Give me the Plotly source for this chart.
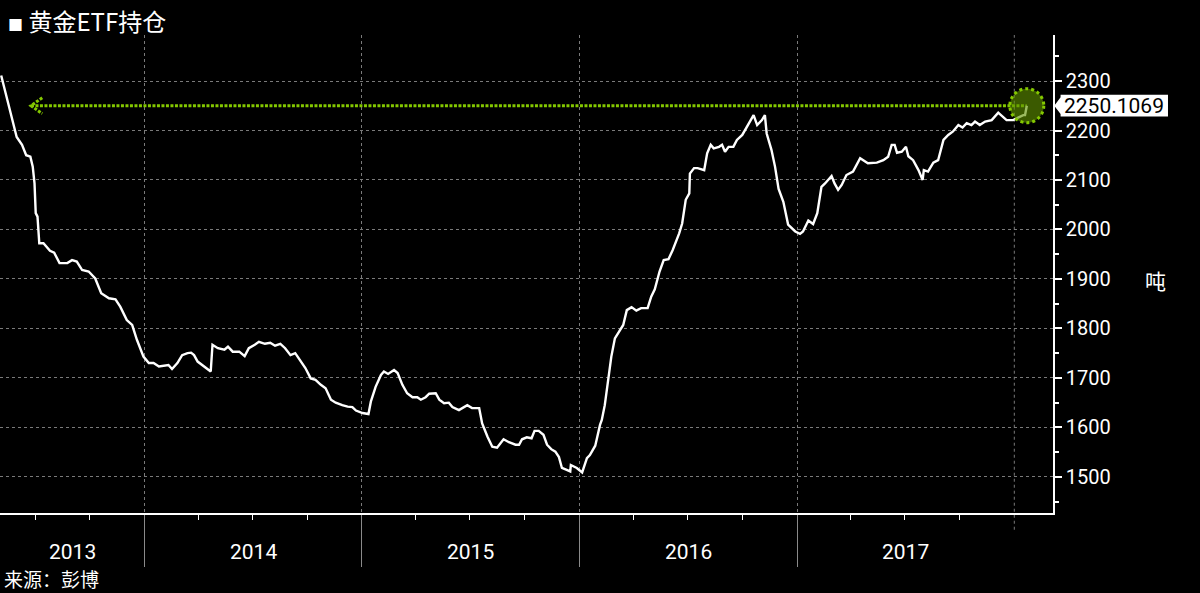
import plotly.graph_objects as go
import pandas as pd

# ---- data ----
dates = [
    "2013-05-05", "2013-05-15", "2013-05-23", "2013-05-27", "2013-05-31", "2013-06-09", "2013-06-16",
    "2013-06-23", "2013-06-27", "2013-06-30", "2013-07-02", "2013-07-05", "2013-07-08", "2013-07-15",
    "2013-07-26", "2013-08-02", "2013-08-11", "2013-08-24", "2013-09-01", "2013-09-09", "2013-09-18",
    "2013-09-29", "2013-10-10", "2013-10-20", "2013-10-24", "2013-11-02", "2013-11-13", "2013-11-21",
    "2013-12-02", "2013-12-11", "2013-12-19", "2013-12-30",
    "2014-01-08", "2014-01-16", "2014-01-25", "2014-02-10", "2014-02-16", "2014-02-25", "2014-03-05",
    "2014-03-14", "2014-03-20", "2014-03-25", "2014-03-31", "2014-04-08", "2014-04-14", "2014-04-22",
    "2014-04-25", "2014-05-04", "2014-05-15", "2014-05-21", "2014-05-29", "2014-06-09", "2014-06-18",
    "2014-06-25", "2014-07-05", "2014-07-12", "2014-07-22", "2014-07-31", "2014-08-08", "2014-08-17",
    "2014-08-25", "2014-09-03", "2014-09-11", "2014-09-20", "2014-09-28", "2014-10-07", "2014-10-15",
    "2014-10-24", "2014-11-01", "2014-11-10", "2014-11-18", "2014-11-29", "2014-12-08", "2014-12-16",
    "2014-12-22",
    "2015-01-02", "2015-01-12", "2015-01-16", "2015-01-24", "2015-02-02", "2015-02-07", "2015-02-14",
    "2015-02-24", "2015-03-02", "2015-03-10", "2015-03-18", "2015-03-27", "2015-04-04", "2015-04-10",
    "2015-04-18", "2015-04-24", "2015-05-05", "2015-05-11", "2015-05-19", "2015-05-27", "2015-06-02",
    "2015-06-13", "2015-06-27", "2015-07-05", "2015-07-17", "2015-07-22", "2015-07-31", "2015-08-08",
    "2015-08-16", "2015-08-27", "2015-09-05", "2015-09-16", "2015-09-22", "2015-09-27", "2015-10-05",
    "2015-10-13", "2015-10-18", "2015-10-25", "2015-11-02", "2015-11-08", "2015-11-15", "2015-11-22",
    "2015-11-28", "2015-12-03", "2015-12-11", "2015-12-17", "2015-12-18", "2015-12-28",
    "2016-01-06", "2016-01-11", "2016-01-14", "2016-01-19", "2016-01-28", "2016-02-05", "2016-02-08",
    "2016-02-13", "2016-02-19", "2016-02-24", "2016-03-01", "2016-03-09", "2016-03-15", "2016-03-21",
    "2016-03-29", "2016-04-06", "2016-04-14", "2016-04-25", "2016-05-01", "2016-05-07", "2016-05-15",
    "2016-05-22", "2016-05-30", "2016-06-06", "2016-06-17", "2016-06-22", "2016-06-28", "2016-07-04",
    "2016-07-05", "2016-07-12", "2016-07-18", "2016-07-29", "2016-08-03", "2016-08-09", "2016-08-14",
    "2016-08-23", "2016-08-28", "2016-09-02", "2016-09-08", "2016-09-16", "2016-09-22", "2016-10-01",
    "2016-10-08", "2016-10-14", "2016-10-20", "2016-10-26", "2016-11-03", "2016-11-08", "2016-11-11",
    "2016-11-19", "2016-11-25", "2016-12-01", "2016-12-09", "2016-12-17", "2016-12-26", "2016-12-29",
    "2017-01-06", "2017-01-11", "2017-01-20", "2017-01-28", "2017-02-04", "2017-02-11", "2017-02-17",
    "2017-02-28", "2017-03-05", "2017-03-11", "2017-03-17", "2017-03-25", "2017-04-05", "2017-04-17",
    "2017-04-30", "2017-05-15", "2017-05-26", "2017-06-03", "2017-06-09", "2017-06-14", "2017-06-18",
    "2017-06-26", "2017-07-03", "2017-07-07", "2017-07-15", "2017-07-24", "2017-07-31", "2017-08-02",
    "2017-08-09", "2017-08-18", "2017-08-26", "2017-09-04", "2017-09-12", "2017-09-20", "2017-09-29",
    "2017-10-06", "2017-10-13", "2017-10-21", "2017-10-27", "2017-11-04", "2017-11-13", "2017-11-24",
    "2017-12-05", "2017-12-11", "2017-12-19", "2017-12-30",
    "2018-01-11", "2018-01-16", "2018-01-19", "2018-01-22",
]
holdings = [
    2311, 2262, 2221, 2201, 2187, 2171, 2150,
    2147, 2127, 2093, 2033, 2026, 1972, 1972,
    1957, 1953, 1932, 1932, 1938, 1935, 1918,
    1915, 1901, 1871, 1868, 1861, 1859, 1844,
    1817, 1807, 1777, 1743,
    1730, 1730, 1723, 1726, 1718, 1730, 1746,
    1750, 1751, 1746, 1733, 1726, 1720, 1713,
    1767, 1760, 1757, 1763, 1753, 1753, 1744,
    1760, 1767, 1773, 1769, 1771, 1765, 1769,
    1760, 1746, 1750, 1733, 1720, 1699, 1696,
    1686, 1679, 1656, 1650, 1645, 1642, 1641,
    1634,
    1629, 1627, 1652, 1682, 1706, 1713, 1708,
    1716, 1710, 1686, 1669, 1661, 1661, 1656,
    1661, 1668, 1669, 1656, 1649, 1650, 1641,
    1635, 1645, 1639, 1639, 1608, 1581, 1561,
    1559, 1576, 1570, 1565, 1565, 1576, 1580,
    1578, 1593, 1593, 1585, 1565, 1556, 1551,
    1540, 1518, 1514, 1511, 1524, 1518,
    1509, 1528, 1538, 1544, 1563, 1605, 1615,
    1645, 1703, 1743, 1780, 1797, 1807, 1837,
    1843, 1836, 1841, 1841, 1864, 1879, 1915,
    1938, 1940, 1958, 1992, 2012, 2060, 2073,
    2113, 2124, 2124, 2120, 2154, 2171, 2164,
    2167, 2171, 2157, 2167, 2167, 2181, 2191,
    2205, 2218, 2231, 2211, 2221, 2231, 2194,
    2161, 2127, 2082, 2056, 2010, 1999, 1996,
    1991, 1996, 2018, 2011, 2033, 2086, 2093,
    2108, 2093, 2080, 2090, 2110, 2117, 2144,
    2134, 2135, 2140, 2147, 2171, 2171, 2155,
    2157, 2167, 2148, 2140, 2120, 2100, 2120,
    2117, 2135, 2140, 2181, 2191, 2198, 2211,
    2206, 2215, 2211, 2218, 2211, 2218, 2221,
    2236, 2229, 2221, 2221,
    2228, 2231, 2231, 2250.1069,
]
last_label = "2250.1069"
series_name = "黄金ETF持仓"
unit_label = "吨"
source_text = "来源：彭博"
y_ticks = [1500, 1600, 1700, 1800, 1900, 2000, 2100, 2200, 2300]
years = [2013, 2014, 2015, 2016, 2017]
year_bounds = ["2014-01-01", "2015-01-01", "2016-01-01", "2017-01-01"]
last_grid = "2018-01-01"
quarter_ticks = ["2013-07-01", "2013-10-01", "2014-04-01", "2014-07-01", "2014-10-01",
                 "2015-04-01", "2015-07-01", "2015-10-01", "2016-04-01", "2016-07-01",
                 "2016-10-01", "2017-04-01", "2017-07-01", "2017-10-01"]
x_range = ["2013-05-03", "2018-03-07"]
y_range = [1427, 2393]
arrow_tip = "2013-06-24"

FONT = "Noto Sans CJK SC, Noto Sans, sans-serif"
NUM_FONT = "Roboto, Noto Sans CJK SC, sans-serif"
LIME = "#84c800"
GRID = "#7a7a7a"

last_x = dates[-1]
last_y = holdings[-1]

fig = go.Figure()

# reference line at last value (dotted lime) with arrow head at left
fig.add_trace(go.Scatter(
    x=[arrow_tip, last_x], y=[last_y, last_y], mode="lines",
    line=dict(color=LIME, width=3, dash="3px,1.5px"), hoverinfo="skip", showlegend=False))
tip = pd.Timestamp(arrow_tip)
wing = tip + pd.Timedelta(days=19)
fig.add_trace(go.Scatter(
    x=[wing, tip, wing], y=[last_y + 16, last_y, last_y - 16], mode="lines",
    line=dict(color=LIME, width=3, dash="3px,1.5px"), hoverinfo="skip", showlegend=False))

# main series
fig.add_trace(go.Scatter(
    x=dates, y=holdings, mode="lines", name=series_name,
    line=dict(color="white", width=2.4), showlegend=False))

shapes = [
    # 2018 gridline (no long tick)
    dict(type="line", xref="x", yref="paper", x0=last_grid, x1=last_grid, y0=-0.035, y1=1,
         line=dict(color=GRID, width=1, dash="3px,3px"), layer="below"),
    # green circle at last point
    dict(type="circle", xref="x", yref="y", xsizemode="pixel", ysizemode="pixel",
         xanchor=last_x, yanchor=last_y, x0=-17, x1=17, y0=-17, y1=17,
         fillcolor="rgba(95,145,0,0.62)", line=dict(color=LIME, width=3, dash="dot"), layer="above"),
    # value label box with notch pointing at the axis
    dict(type="path", xref="paper", yref="y",
         path=(f"M 1.0012,{last_y} L 1.0072,{last_y + 17} L 1.0072,{last_y + 22} "
               f"L 1.1092,{last_y + 22} L 1.1092,{last_y - 22} L 1.0072,{last_y - 22} "
               f"L 1.0072,{last_y - 17} Z"),
         fillcolor="white", line=dict(width=0)),
]

annotations = [
    dict(xref="paper", yref="paper", x=0.006, y=1.031, xanchor="left", yanchor="middle",
         text="<span style='font-size:15px'>■</span> " + series_name, showarrow=False,
         font=dict(family=FONT, size=24, color="white")),
    dict(xref="paper", yref="y", x=1.0584, y=last_y, xanchor="center", yanchor="middle",
         text=last_label, showarrow=False,
         font=dict(family=NUM_FONT, size=21, color="black")),
    dict(xref="paper", yref="paper", x=1.097, y=0.487, xanchor="center", yanchor="middle",
         text=unit_label, showarrow=False, font=dict(family=FONT, size=21, color="white")),
    dict(xref="paper", yref="paper", x=0.002, y=-0.136, xanchor="left", yanchor="middle",
         text=source_text, showarrow=False, font=dict(family=FONT, size=19, color="white")),
]
r0, r1 = pd.Timestamp(x_range[0]), pd.Timestamp(x_range[1])
for yr in years:
    lo = max(pd.Timestamp(f"{yr}-01-01"), r0)
    hi = min(pd.Timestamp(f"{yr + 1}-01-01"), r1)
    mid = lo + (hi - lo) / 2
    annotations.append(dict(xref="x", yref="paper", x=mid, y=-0.081, xanchor="center",
                            yanchor="middle", text=str(yr), showarrow=False,
                            font=dict(family=NUM_FONT, size=21, color="white")))

fig.update_layout(
    width=1200, height=593,
    margin=dict(l=0, r=147, t=35, b=80),
    paper_bgcolor="black", plot_bgcolor="black",
    font=dict(family=FONT, color="white"),
    shapes=shapes, annotations=annotations,
    xaxis=dict(
        type="date", range=x_range, tickmode="array", tickvals=year_bounds,
        showticklabels=False, ticks="outside", ticklen=52, tickwidth=1, tickcolor="#8a8a8a",
        showgrid=True, gridcolor=GRID, gridwidth=1, griddash="3px,3px",
        showline=True, linecolor="white", linewidth=1.5, zeroline=False,
        minor=dict(tickmode="array", tickvals=quarter_ticks, ticks="outside", ticklen=5,
                   tickcolor="white", tickwidth=1, showgrid=False),
    ),
    yaxis=dict(
        side="right", range=y_range, tickmode="array", tickvals=y_ticks,
        ticks="outside", ticklen=7, tickwidth=2, tickcolor="white",
        tickfont=dict(family=NUM_FONT, size=20, color="white"),
        showgrid=True, gridcolor=GRID, gridwidth=1, griddash="3px,3px",
        showline=True, linecolor="white", linewidth=1.5, zeroline=False,
        minor=dict(dtick=50, tick0=1450, ticks="outside", ticklen=4, tickcolor="white",
                   showgrid=False),
    ),
)

fig.write_html("out.html", config={"displayModeBar": False},
               post_script="document.body.style.margin='0';document.body.style.background='black';")
